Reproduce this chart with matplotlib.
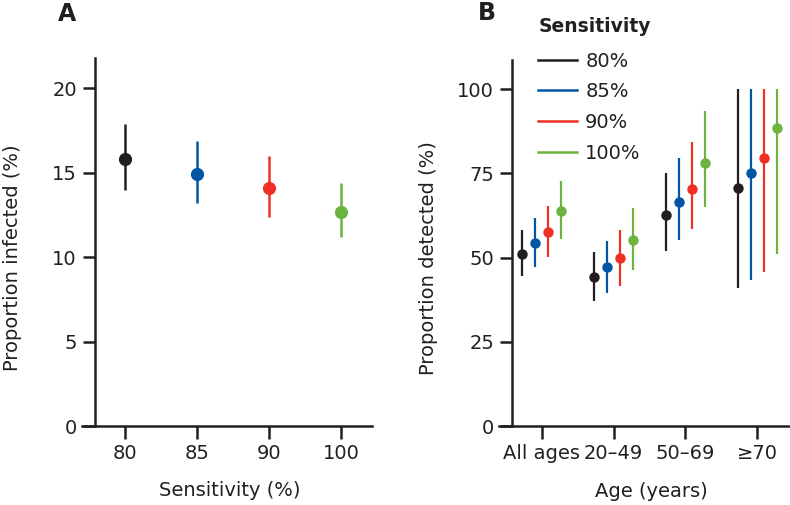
import matplotlib
matplotlib.use("Agg")
import matplotlib.pyplot as plt
from matplotlib.lines import Line2D
import numpy as np

plt.rcParams["font.family"] = ["DejaVu Sans"]

# ---- data -------------------------------------------------------------
sens_labels = ["80", "85", "90", "100"]
sens_legend = ["80%", "85%", "90%", "100%"]
colors = ["#231f20", "#0055a5", "#ee3124", "#6cb33f"]

# panel A: proportion infected (%)
inf_mid = [15.8, 14.9, 14.1, 12.7]
inf_lo = [14.0, 13.2, 12.4, 11.2]
inf_hi = [17.9, 16.9, 16.0, 14.4]

# panel B: proportion detected (%) by age group, one list per sensitivity
age_groups = ["All ages", "20–49", "50–69", "≥70"]
det_mid = [[51.2, 44.4, 62.7, 70.7],
           [54.4, 47.1, 66.5, 75.1],
           [57.6, 49.9, 70.5, 79.6],
           [64.0, 55.3, 78.2, 88.4]]
det_lo = [[44.6, 37.0, 52.1, 40.9],
          [47.3, 39.4, 55.3, 43.4],
          [50.1, 41.7, 58.5, 45.8],
          [55.6, 46.3, 65.1, 51.0]]
det_hi = [[58.1, 51.8, 75.0, 100.0],
          [61.8, 55.0, 79.7, 100.0],
          [65.3, 58.2, 84.4, 100.0],
          [72.7, 64.7, 93.7, 100.0]]

INK = "#231f20"
W, H = 790, 505
fig = plt.figure(figsize=(W / 100, H / 100), dpi=100)


def style(ax, yspine_x):
    for s in ("top", "right"):
        ax.spines[s].set_visible(False)
    ax.spines["left"].set_position(("data", yspine_x))
    for s in ("left", "bottom"):
        ax.spines[s].set_linewidth(1.8)
        ax.spines[s].set_color(INK)
    ax.tick_params(axis="both", length=9, width=1.8, color=INK,
                   labelsize=14, labelcolor=INK, pad=4)


# ---- panel A ----------------------------------------------------------
axA = fig.add_axes([82 / W, (H - 426) / H, 290 / W, 368 / H])
x = np.arange(len(sens_labels))
for i in range(len(sens_labels)):
    axA.plot([x[i], x[i]], [inf_lo[i], inf_hi[i]], color=colors[i], lw=1.8,
             solid_capstyle="butt")
    axA.plot(x[i], inf_mid[i], "o", color=colors[i], ms=9.5, mec="none")
axA.set_xlim(-0.597, 3.43)
axA.set_ylim(0, 21.8)
axA.set_yticks([0, 5, 10, 15, 20])
axA.set_xticks(x)
axA.set_xticklabels(sens_labels)
style(axA, -0.417)
axA.set_xlabel("Sensitivity (%)", fontsize=14, color=INK)
axA.set_ylabel("Proportion infected (%)", fontsize=14, color=INK)
axA.xaxis.set_label_coords(148 / 290, -55 / 368)
axA.yaxis.set_label_coords(-60 / 290, 0.458)
fig.text(58 / W, 1 - 14 / H, "A", fontsize=17, fontweight="bold",
         color=INK, va="center", ha="left")

# ---- panel B ----------------------------------------------------------
axB = fig.add_axes([499 / W, (H - 426) / H, 290 / W, 366 / H])
xg = np.arange(len(age_groups))
offsets = (np.arange(4) - 1.5) * 0.18
for i in range(len(sens_legend)):
    xs = xg + offsets[i]
    axB.vlines(xs, det_lo[i], det_hi[i], color=colors[i], lw=1.6)
    axB.plot(xs, det_mid[i], "o", color=colors[i], ms=7.5, mec="none", ls="none")
axB.set_xlim(-0.594, 3.44)
axB.set_ylim(0, 108.7)
axB.set_yticks([0, 25, 50, 75, 100])
axB.set_xticks(xg)
axB.set_xticklabels(age_groups)
style(axB, -0.409)
axB.set_xlabel("Age (years)", fontsize=14, color=INK)
axB.set_ylabel("Proportion detected (%)", fontsize=14, color=INK)
axB.xaxis.set_label_coords(152 / 290, -56 / 366)
axB.yaxis.set_label_coords(-61 / 290, (426 - 258) / 366)
fig.text(478 / W, 1 - 13 / H, "B", fontsize=17, fontweight="bold",
         color=INK, va="center", ha="left")

# legend for panel B
fig.text(539 / W, 1 - 26 / H, "Sensitivity", fontsize=13.5, fontweight="bold",
         color=INK, va="center", ha="left")
handles = [Line2D([], [], color=c, lw=1.8) for c in colors]
leg = fig.legend(handles, sens_legend, loc="upper left",
                 bbox_to_anchor=(524 / W, 1 - 38 / H), frameon=False,
                 fontsize=14, handlelength=2.0, handletextpad=0.45,
                 labelspacing=0.6, borderpad=0.2)
for t in leg.get_texts():
    t.set_color(INK)

fig.savefig("out.png", dpi=100)
